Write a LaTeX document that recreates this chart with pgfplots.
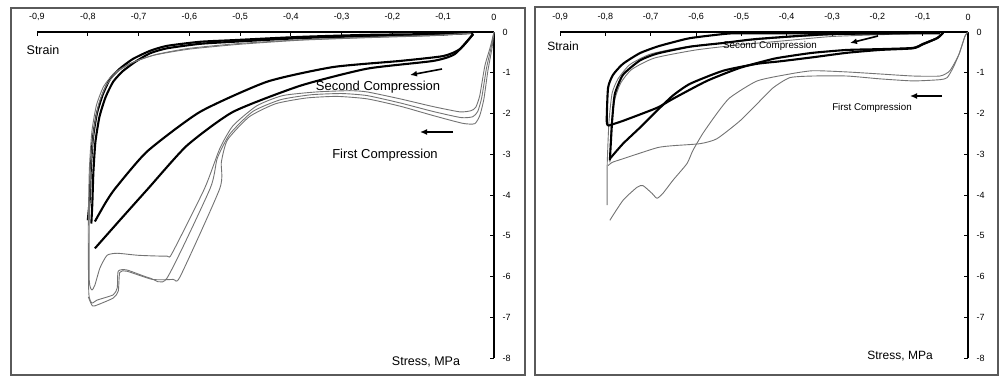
\documentclass[border=0pt]{standalone}
\usepackage{fontspec}
\setmainfont{Liberation Sans}
\usepackage{pgfplots}
\pgfplotsset{compat=1.18}
\usetikzlibrary{arrows.meta}
\definecolor{lg}{RGB}{115,115,115}
\definecolor{fr}{RGB}{90,90,90}
\pgfplotsset{
  myax/.style={
    scale only axis,
    axis x line=top, axis y line=right,
    axis line style={-, line width=1.3pt, black},
    xmin=-0.9, xmax=0, ymin=-8, ymax=0,
    xtick={-0.9,-0.8,-0.7,-0.6,-0.5,-0.4,-0.3,-0.2,-0.1,0},
    ytick={-8,-7,-6,-5,-4,-3,-2,-1,0},
    tick align=inside, major tick length=4pt,
    tick style={line width=1pt, black},
    ticklabel style={font=\fontsize{9}{10}\selectfont},
    xticklabel style={yshift=7.5pt,
      /pgf/number format/fixed, /pgf/number format/precision=1,
      /pgf/number format/use comma},
    yticklabel style={xshift=5pt},
    /pgf/number format/assume math mode=true,
    clip=false,
  },
  bk/.style={black, line width=2.1pt, line join=round, smooth, tension=0.35},
  gr/.style={lg, line width=0.9pt, line join=round, smooth, tension=0.35},
}
\begin{document}
\begin{tikzpicture}[x=1pt,y=1pt]
\path[use as bounding box] (0,0) rectangle (1000,378);
\draw[fr, line width=1.2pt] (11,3) rectangle (525,370);
\draw[fr, line width=1.2pt] (535,3) rectangle (998,371);

% ---------------- left panel ----------------
\begin{axis}[myax, at={(37pt,20pt)}, anchor=south west, width=457pt, height=326pt]
% black: top bundle
\addplot[bk] coordinates {(-0.041,-0.02) (-0.120,-0.05) (-0.250,-0.07) (-0.382,-0.12) (-0.514,-0.20) (-0.579,-0.24) (-0.644,-0.34) (-0.677,-0.46) (-0.711,-0.66) (-0.737,-0.90) (-0.756,-1.15) (-0.770,-1.52) (-0.782,-2.00) (-0.790,-2.62) (-0.794,-3.35) (-0.796,-4.08) (-0.800,-4.62)};
\addplot[bk] coordinates {(-0.041,-0.02) (-0.120,-0.07) (-0.250,-0.10) (-0.382,-0.15) (-0.514,-0.24) (-0.579,-0.29) (-0.644,-0.40) (-0.677,-0.52) (-0.705,-0.72) (-0.731,-0.96) (-0.750,-1.22) (-0.765,-1.60) (-0.777,-2.08) (-0.785,-2.70) (-0.789,-3.45) (-0.791,-4.20) (-0.793,-4.70)};
% black: return curves
\addplot[bk] coordinates {(-0.786,-4.65) (-0.766,-4.21) (-0.746,-3.84) (-0.683,-2.93) (-0.579,-1.96) (-0.447,-1.22) (-0.317,-0.86) (-0.185,-0.71) (-0.100,-0.59) (-0.067,-0.42) (-0.041,-0.05)};
\addplot[bk] coordinates {(-0.786,-5.31) (-0.737,-4.62) (-0.681,-3.84) (-0.605,-2.79) (-0.514,-1.96) (-0.382,-1.32) (-0.250,-0.90) (-0.120,-0.71) (-0.077,-0.54) (-0.041,-0.05)};
% gray: first compression loops
\addplot[gr] coordinates {(0,0) (-0.008,-0.40) (-0.018,-0.83) (-0.028,-1.56) (-0.036,-1.85) (-0.045,-1.93) (-0.067,-1.96) (-0.120,-1.83) (-0.185,-1.64) (-0.250,-1.47) (-0.284,-1.44) (-0.349,-1.47) (-0.416,-1.56) (-0.467,-1.81) (-0.514,-2.30) (-0.540,-2.86) (-0.570,-3.84) (-0.634,-5.43) (-0.644,-5.50) (-0.700,-5.48) (-0.742,-5.43) (-0.762,-5.48) (-0.776,-5.79) (-0.786,-6.21) (-0.792,-6.33) (-0.797,-6.10) (-0.797,-4.60) (-0.794,-3.30) (-0.788,-2.40) (-0.778,-1.75) (-0.763,-1.30) (-0.742,-0.98) (-0.710,-0.74) (-0.665,-0.55) (-0.600,-0.40) (-0.500,-0.28) (-0.380,-0.19) (-0.250,-0.13) (-0.120,-0.08) (-0.045,-0.03)};
\addplot[gr] coordinates {(0,0) (-0.006,-0.40) (-0.015,-0.90) (-0.024,-1.60) (-0.032,-1.95) (-0.042,-2.08) (-0.065,-2.10) (-0.120,-1.95) (-0.185,-1.74) (-0.250,-1.56) (-0.300,-1.51) (-0.360,-1.54) (-0.420,-1.66) (-0.475,-1.95) (-0.520,-2.50) (-0.545,-3.10) (-0.559,-3.84) (-0.644,-6.04) (-0.677,-6.04) (-0.723,-5.84) (-0.740,-5.87) (-0.742,-6.28) (-0.750,-6.45) (-0.782,-6.58) (-0.792,-6.65) (-0.798,-6.40) (-0.799,-4.80) (-0.797,-3.40) (-0.792,-2.45) (-0.783,-1.80) (-0.769,-1.34) (-0.748,-1.01) (-0.716,-0.77) (-0.670,-0.57) (-0.600,-0.42) (-0.500,-0.30) (-0.380,-0.20) (-0.250,-0.14) (-0.120,-0.09) (-0.045,-0.03)};
\addplot[gr] coordinates {(0,0) (-0.004,-0.40) (-0.012,-0.95) (-0.020,-1.65) (-0.028,-2.05) (-0.038,-2.25) (-0.062,-2.24) (-0.120,-2.05) (-0.185,-1.82) (-0.250,-1.64) (-0.310,-1.58) (-0.370,-1.62) (-0.430,-1.76) (-0.482,-2.08) (-0.525,-2.65) (-0.537,-3.20) (-0.540,-3.84) (-0.618,-6.00) (-0.632,-6.07) (-0.673,-6.07) (-0.723,-5.87) (-0.737,-5.90) (-0.740,-6.36) (-0.750,-6.53) (-0.786,-6.72) (-0.792,-6.70) (-0.799,-6.50)};
\end{axis}

% ---------------- right panel ----------------
\begin{axis}[myax, at={(560pt,20pt)}, anchor=south west, width=408pt, height=326pt]
% gray returns inside top bundle
\addplot[gr] coordinates {(-0.796,-4.25) (-0.796,-3.30) (-0.792,-2.20) (-0.785,-1.50) (-0.772,-1.15) (-0.746,-0.80) (-0.700,-0.54) (-0.620,-0.36) (-0.500,-0.22) (-0.400,-0.13) (-0.300,-0.07) (-0.150,-0.04) (-0.062,-0.02)};
\addplot[gr] coordinates {(-0.790,-3.20) (-0.787,-2.30) (-0.779,-1.65) (-0.766,-1.25) (-0.742,-0.92) (-0.692,-0.64) (-0.600,-0.44) (-0.500,-0.31) (-0.400,-0.21) (-0.300,-0.11) (-0.150,-0.05) (-0.062,-0.02)};
% black loops
\addplot[bk] coordinates {(-0.062,-0.02) (-0.300,-0.03) (-0.503,-0.03) (-0.540,-0.05) (-0.613,-0.15) (-0.657,-0.27) (-0.686,-0.36) (-0.724,-0.52) (-0.761,-0.78) (-0.783,-1.05) (-0.794,-1.37) (-0.797,-2.18) (-0.794,-2.30)};
\addplot[bk] coordinates {(-0.794,-2.30) (-0.761,-2.18) (-0.686,-1.86) (-0.651,-1.64) (-0.576,-1.20) (-0.503,-0.88) (-0.430,-0.66) (-0.393,-0.59) (-0.342,-0.51) (-0.267,-0.44) (-0.194,-0.42) (-0.121,-0.39) (-0.099,-0.29) (-0.068,-0.15) (-0.055,-0.02)};
\addplot[bk] coordinates {(-0.062,-0.03) (-0.300,-0.05) (-0.465,-0.17) (-0.540,-0.27) (-0.613,-0.36) (-0.686,-0.53) (-0.724,-0.70) (-0.761,-1.05) (-0.779,-1.52) (-0.785,-2.18) (-0.790,-3.15)};
\addplot[bk] coordinates {(-0.790,-3.11) (-0.761,-2.74) (-0.724,-2.35) (-0.686,-1.93) (-0.651,-1.56) (-0.613,-1.27) (-0.540,-0.95) (-0.465,-0.78) (-0.415,-0.72) (-0.342,-0.62) (-0.267,-0.51) (-0.194,-0.44) (-0.121,-0.40) (-0.099,-0.30) (-0.068,-0.15) (-0.055,-0.02)};
% gray first compression
\addplot[gr] coordinates {(0,0) (-0.0066,-0.10) (-0.020,-0.55) (-0.040,-0.95) (-0.062,-1.08) (-0.121,-1.08) (-0.194,-1.03) (-0.267,-0.98) (-0.342,-0.95) (-0.393,-1.03) (-0.465,-1.20) (-0.525,-1.61) (-0.554,-2.00) (-0.585,-2.49) (-0.607,-2.91) (-0.620,-3.23) (-0.651,-3.64) (-0.673,-3.96) (-0.686,-4.08) (-0.697,-3.96) (-0.717,-3.77) (-0.730,-3.81) (-0.761,-4.13) (-0.790,-4.62)};
\addplot[gr] coordinates {(0,0) (-0.0066,-0.10) (-0.020,-0.55) (-0.033,-0.88) (-0.046,-1.12) (-0.062,-1.17) (-0.121,-1.20) (-0.194,-1.15) (-0.267,-1.08) (-0.342,-1.08) (-0.393,-1.12) (-0.430,-1.37) (-0.465,-1.76) (-0.503,-2.18) (-0.554,-2.62) (-0.591,-2.74) (-0.651,-2.79) (-0.686,-2.84) (-0.761,-3.11) (-0.785,-3.20) (-0.794,-3.28)};
\end{axis}

% ---------------- texts ----------------
\node[font=\fontsize{12.5}{13}\selectfont] at (43,328) {Strain};
\node[font=\fontsize{12.5}{13}\selectfont] at (426,16) {Stress, MPa};
\node[font=\fontsize{13}{14}\selectfont] at (378,291) {Second Compression};
\node[font=\fontsize{13}{14}\selectfont] at (385,223) {First Compression};
\node[font=\fontsize{12}{13}\selectfont] at (563,332) {Strain};
\node[font=\fontsize{12}{13}\selectfont] at (900,22) {Stress, MPa};
\node[font=\fontsize{9.8}{11}\selectfont] at (770,332) {Second Compression};
\node[font=\fontsize{9.8}{11}\selectfont] at (872,270) {First Compression};
% arrows
\draw[-{Latex[length=7pt,width=6pt]}, line width=1.6pt] (442,309) -- (410,303);
\draw[-{Latex[length=7pt,width=6pt]}, line width=1.6pt] (453,246) -- (420,246);
\draw[-{Latex[length=7pt,width=6pt]}, line width=1.6pt] (878,342) -- (850,335);
\draw[-{Latex[length=7pt,width=6pt]}, line width=1.6pt] (942,282) -- (910,282);
\end{tikzpicture}
\end{document}
